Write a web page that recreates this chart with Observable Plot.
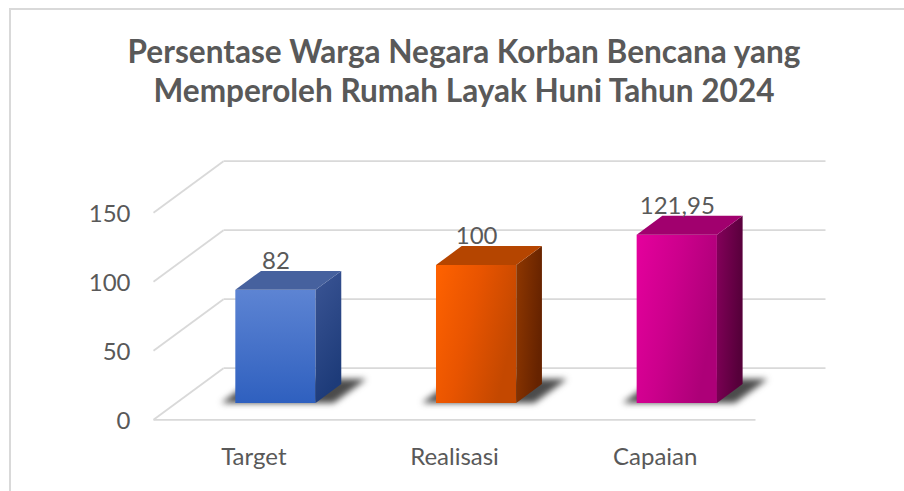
<!DOCTYPE html>
<html><head><meta charset="utf-8">
<script src="https://cdn.jsdelivr.net/npm/d3@7"></script>
<script src="https://cdn.jsdelivr.net/npm/@observablehq/plot@0.6"></script>
<style>
html,body{margin:0;padding:0;background:#fff;}
#wrap{position:relative;width:904px;height:491px;overflow:hidden;font-family:Lato,Carlito,sans-serif;}
#frame{position:absolute;left:9px;top:8px;width:1000px;height:600px;border-left:2px solid #d9d9d9;border-top:2px solid #d9d9d9;}
.t{position:absolute;left:0;width:928px;text-align:center;font-weight:bold;color:#595959;white-space:nowrap;line-height:1;}
#chart{position:absolute;left:0;top:130px;}
#chart svg{overflow:visible;}
</style></head><body>
<div id="wrap"><div id="frame"></div>
<div class="t" id="t1"></div><div class="t" id="t2"></div>
<div id="chart"></div></div>
<script>
const titleLines = ["Persentase Warga Negara Korban Bencana yang", "Memperoleh Rumah Layak Huni Tahun 2024"];
const categories = ["Target", "Realisasi", "Capaian"];
const values = [82, 100, 121.95];
const yTicks = [0, 50, 100, 150];

const fmt = v => String(v).replace(".", ",");

// title sizing
const FONT = "Lato, Carlito, sans-serif";
const cv = document.createElement("canvas").getContext("2d");
cv.font = `bold 28px ${FONT}`;
const w1 = cv.measureText(titleLines[0]).width;
const titleSize = 28 * 674 / w1;
const baselines = [64.3, 102.7];
["t1", "t2"].forEach((id, k) => {
  const el = document.getElementById(id);
  el.textContent = titleLines[k];
  el.style.fontSize = titleSize + "px";
  el.style.top = (baselines[k] - 0.887 * titleSize) + "px";
});

// geometry
const W = 904, H = 361, ML = 153, MR = 149, MT = 82.3, MB = 71.7;
const pxX = (W - ML - MR) / categories.length;
const pxY = (H - MT - MB) / 150;
const kx = 70 / pxX, ky = 51.6 / pxY;   // oblique depth projection
const D0 = 0.316, D1 = 0.683, BW = 0.2;

const bars = categories.map((c, i) => ({c, i, v: values[i], label: fmt(values[i])}));
const frontFill = ["url(#front0)", "url(#front1)", "url(#front2)"];
const sideFill = ["url(#side0)", "url(#side1)", "url(#side2)"];
const topFill = ["#46619e", "#b54500", "#a1006e"];

const sideRows = bars.flatMap(b => [D0, D1].map(d => ({i: b.i, x: b.i + 0.5 + BW + kx * d, y1: ky * d, y2: b.v + ky * d})));
const topRows = bars.flatMap(b => [D0, D1].map(d => ({i: b.i, y: b.v + ky * d, x1: b.i + 0.5 - BW + kx * d, x2: b.i + 0.5 + BW + kx * d})));
const shadowRows = bars.flatMap(b => [D0, D1 + 0.1].map(d => ({i: b.i, y: ky * d, x1: b.i + 0.5 - BW - 0.07 + kx * d, x2: b.i + 0.5 + BW + 0.09 + kx * d})));

const diag = yTicks.map(v => ({x1: 0, y1: v, x2: kx, y2: v + ky}));
const back = yTicks.map(v => ({x1: kx, y1: v + ky, x2: categories.length + kx, y2: v + ky}));
const floorFront = [{x1: 0, y1: 0, x2: categories.length, y2: 0}];

function defsMark() {
  const ns = "http://www.w3.org/2000/svg";
  const defs = document.createElementNS(ns, "defs");
  const grad = (id, x2, y2, stops) => {
    const g = document.createElementNS(ns, "linearGradient");
    g.setAttribute("id", id);
    g.setAttribute("x1", 0); g.setAttribute("y1", 0);
    g.setAttribute("x2", x2); g.setAttribute("y2", y2);
    stops.forEach(([o, c]) => {
      const s = document.createElementNS(ns, "stop");
      s.setAttribute("offset", o); s.setAttribute("stop-color", c);
      g.appendChild(s);
    });
    defs.appendChild(g);
  };
  grad("front0", 0, 1, [[0, "#5d84d3"], [1, "#2f60bf"]]);
  grad("side0", 0.3, 1, [[0, "#3b5595"], [1, "#1d3b79"]]);
  grad("front1", 1, 0.4, [[0, "#ff6200"], [0.5, "#e85400"], [1, "#c44800"]]);
  grad("side1", 1, 0.3, [[0, "#8f3700"], [1, "#662300"]]);
  grad("front2", 1, 0.4, [[0, "#e5009d"], [0.5, "#cc008c"], [1, "#ad0078"]]);
  grad("side2", 1, 0.3, [[0, "#85005b"], [1, "#56003a"]]);
  return defs;
}

const chart = Plot.plot({
  width: W, height: H,
  marginLeft: ML, marginRight: MR, marginTop: MT, marginBottom: MB,
  style: {fontFamily: FONT, fontSize: "24px", color: "#595959", background: "transparent"},
  x: {domain: [0, categories.length], axis: null},
  y: {domain: [0, 150], axis: null},
  color: {type: "identity"},
  marks: [
    defsMark,
    Plot.link(diag, {x1: "x1", y1: "y1", x2: "x2", y2: "y2", stroke: "#d9d9d9", strokeWidth: 1.8}),
    Plot.link(back, {x1: "x1", y1: "y1", x2: "x2", y2: "y2", stroke: "#d9d9d9", strokeWidth: 1.8}),
    Plot.link(floorFront, {x1: "x1", y1: "y1", x2: "x2", y2: "y2", stroke: "#d9d9d9", strokeWidth: 1.8}),
    Plot.axisY(yTicks, {anchor: "left", tickSize: 0, tickPadding: 23, dy: 2, fontSize: 24, fill: "#595959"}),
    Plot.axisX(categories.map((c, i) => i + 0.5), {anchor: "bottom", tickSize: 0, tickPadding: 28, fontSize: 24, fill: "#595959", tickFormat: t => categories[Math.floor(t)]}),
    Plot.areaX(shadowRows, {y: "y", x1: "x1", x2: "x2", z: "i", fill: "#2b2b2b", fillOpacity: 0.85}),
    Plot.rect(bars, {x1: d => d.i + 0.5 - BW + kx * D0, x2: d => d.i + 0.5 + BW + kx * D0, y1: ky * D0, y2: d => d.v + ky * D0, fill: d => frontFill[d.i]}),
    Plot.areaY(sideRows, {x: "x", y1: "y1", y2: "y2", z: "i", fill: d => sideFill[d.i]}),
    Plot.areaX(topRows, {y: "y", x1: "x1", x2: "x2", z: "i", fill: d => topFill[d.i]}),
    Plot.text(bars, {x: d => d.i + 0.5 + kx * D0, y: d => d.v + ky * D0, text: "label", dy: -29, fontSize: 24, fill: "#595959"})
  ]
});
chart.querySelectorAll('[fill="#2b2b2b"]').forEach(n => n.style.filter = "blur(3px)");
document.getElementById("chart").appendChild(chart);
</script>
</body></html>
